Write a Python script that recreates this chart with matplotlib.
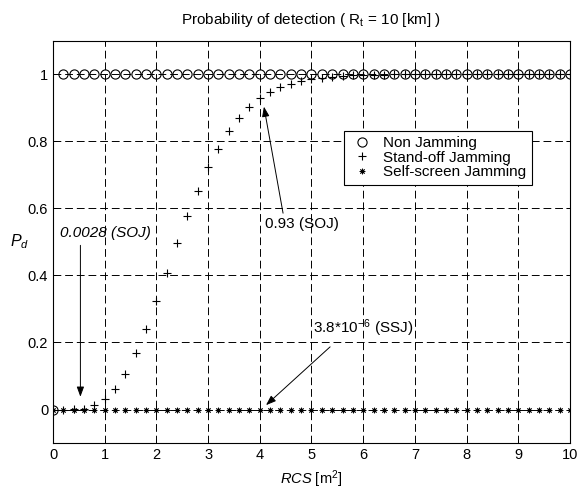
"""Probability of detection vs RCS for the three jamming cases (R_t = 10 km)."""
import matplotlib
matplotlib.use("Agg")
import matplotlib.pyplot as plt
import numpy as np

plt.rcParams["font.family"] = ["Liberation Sans", "DejaVu Sans"]
plt.rcParams["mathtext.fontset"] = "custom"
plt.rcParams["mathtext.rm"] = "Liberation Sans"
plt.rcParams["mathtext.it"] = "Liberation Sans:italic"

# RCS sampling, 0 .. 10 m^2 in steps of 0.2
RCS = np.linspace(0, 10, 51)

PD_NON = [0.0, 1.0, 1.0, 1.0, 1.0, 1.0, 1.0, 1.0, 1.0, 1.0,
          1.0, 1.0, 1.0, 1.0, 1.0, 1.0, 1.0, 1.0, 1.0, 1.0,
          1.0, 1.0, 1.0, 1.0, 1.0, 1.0, 1.0, 1.0, 1.0, 1.0,
          1.0, 1.0, 1.0, 1.0, 1.0, 1.0, 1.0, 1.0, 1.0, 1.0,
          1.0, 1.0, 1.0, 1.0, 1.0, 1.0, 1.0, 1.0, 1.0, 1.0, 1.0]

PD_SOJ = [0.0, 0.0, 0.001, 0.003, 0.012, 0.032, 0.06, 0.107, 0.168, 0.24,
          0.323, 0.408, 0.496, 0.578, 0.652, 0.723, 0.778, 0.832, 0.869, 0.902,
          0.931, 0.948, 0.963, 0.972, 0.98, 0.986, 0.99, 0.993, 0.995, 0.997,
          0.998, 0.999, 0.999, 1.0, 1.0, 1.0, 1.0, 1.0, 1.0, 1.0,
          1.0, 1.0, 1.0, 1.0, 1.0, 1.0, 1.0, 1.0, 1.0, 1.0, 1.0]

PD_SSJ = [0.0, 0.0, 0.0, 0.0, 0.0, 0.0, 0.0, 0.0, 0.0, 0.0,
          0.0, 0.0, 0.0, 0.0, 0.0, 0.0, 0.0, 0.0, 0.0, 0.0,
          0.0, 0.0, 0.0, 0.0, 0.0, 0.0, 0.0, 0.0, 0.0, 0.0,
          0.0, 0.0, 0.0, 0.0, 0.0, 0.0, 0.0, 0.0, 0.0, 0.0,
          0.0, 0.0, 0.0, 0.0, 0.0, 0.0, 0.0, 0.0, 0.0, 0.0, 0.0]

LABELS = ["Non Jamming", "Stand-off Jamming", "Self-screen Jamming"]
XTICKS = [0, 1, 2, 3, 4, 5, 6, 7, 8, 9, 10]
YTICKS = [0, 0.2, 0.4, 0.6, 0.8, 1]
YTICKLABELS = ["0", "0.2", "0.4", "0.6", "0.8", "1"]

FS = 10.5

fig = plt.figure(figsize=(5.87, 4.93), dpi=100)
ax = fig.add_axes([0.0903, 0.1014, 0.8807, 0.8155])

ax.plot(RCS, PD_NON, "o", ms=6.6, mfc="none", mec="black", mew=0.8, label=LABELS[0])
ax.plot(RCS, PD_SOJ, "+", ms=6, mec="black", mew=0.8, label=LABELS[1])
ax.plot(RCS, PD_SSJ, marker=(8, 2, 0), ls="none", ms=4, mec="black", mew=0.6,
        color="black", label=LABELS[2])

ax.set_xlim(0, 10)
ax.set_ylim(-0.1, 1.1)
ax.set_xticks(XTICKS)
ax.set_yticks(YTICKS)
ax.set_yticklabels(YTICKLABELS)
ax.tick_params(direction="in", top=True, right=True, length=3, labelsize=FS,
               colors="black", width=0.7)
ax.grid(True, color="black", lw=0.7, ls=(0, (8, 4)))
ax.set_axisbelow(True)
for sp in ax.spines.values():
    sp.set_linewidth(0.8)
    sp.set_color("black")

ax.set_title("Probability of detection ( R$_{\\mathrm{t}}$ = 10 [km] )", fontsize=11, pad=12)
ax.set_xlabel("$RCS$ [m$^{2}$]", fontsize=FS, labelpad=5)
ax.set_ylabel("$P_d$", fontsize=FS + 1, rotation=0, ha="center", va="center")
ax.yaxis.set_label_coords(-0.064, 0.5)

arrow = dict(arrowstyle="-|>,head_length=0.6,head_width=0.22", color="black", lw=0.7,
             shrinkA=0, shrinkB=0)
ax.annotate("", xy=(0.53, 0.038), xytext=(0.53, 0.49), arrowprops=arrow)
ax.text(0.13, 0.527, "0.0028 (SOJ)", fontsize=11, style="italic", va="center", ha="left")
ax.annotate("", xy=(4.08, 0.904), xytext=(4.45, 0.586), arrowprops=arrow)
ax.text(4.1, 0.554, "0.93 (SOJ)", fontsize=11, va="center", ha="left")
ax.annotate("", xy=(4.12, 0.013), xytext=(5.36, 0.187), arrowprops=arrow)
ax.text(5.02, 0.243, "3.8*10$^{-6}$ (SSJ)", fontsize=11, va="center", ha="left")

leg = ax.legend(loc="upper right", bbox_to_anchor=(0.926, 0.777), fontsize=11,
                frameon=True, fancybox=False, edgecolor="black", framealpha=1,
                borderpad=0.35, labelspacing=0.05, handlelength=1.6, handletextpad=0.6,
                borderaxespad=0)
leg.get_frame().set_linewidth(0.8)

fig.savefig("out.png", dpi=100)
